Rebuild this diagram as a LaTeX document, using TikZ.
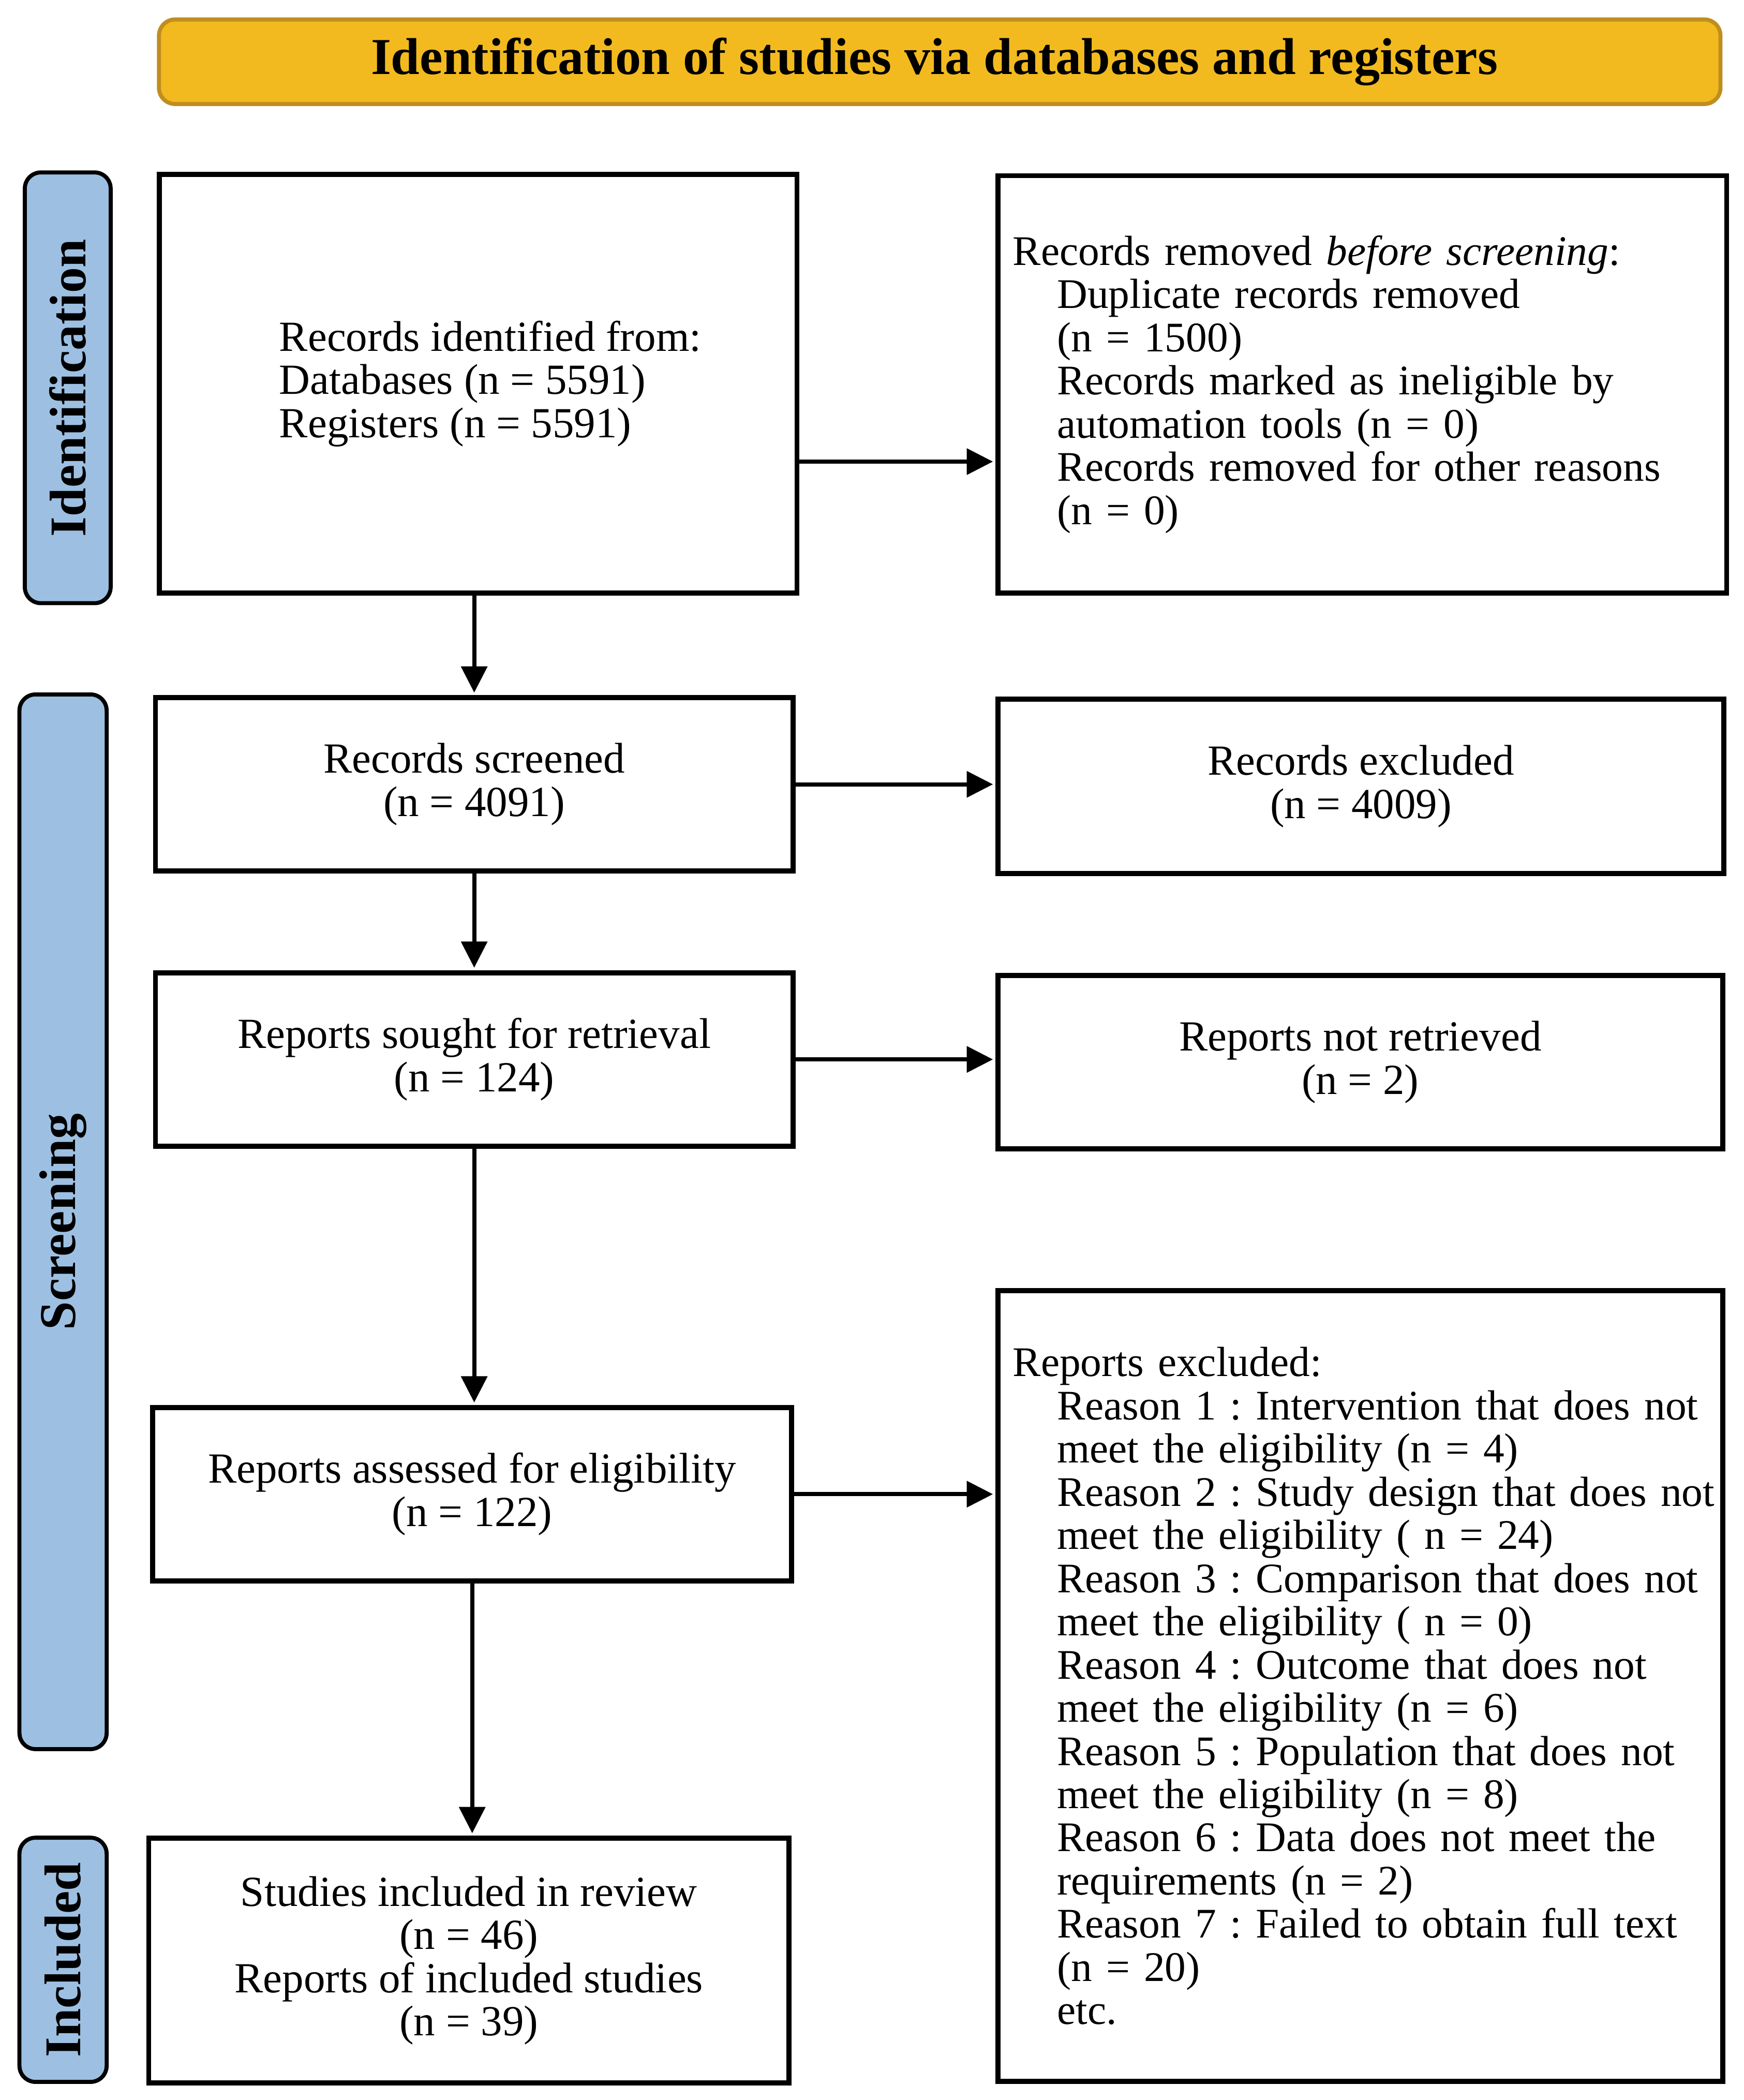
\documentclass[tikz,border=0pt]{standalone}
\usepackage{fontspec}
\setmainfont{Liberation Serif}
\usetikzlibrary{arrows.meta,calc}
\definecolor{hdrfill}{HTML}{F2BA1E}
\definecolor{hdrdraw}{HTML}{BF8E1F}
\definecolor{sidefill}{HTML}{9DC0E2}
\newcommand{\indt}{\hspace*{16.5pt}}
\frenchspacing
\begin{document}
\begin{tikzpicture}[x=0.5pt,y=-0.5pt,
  box/.style={draw=black, line width=1.9pt, inner sep=0pt, align=center,
    font=\fontsize{16}{16.1}\selectfont},
  leftbox/.style={box, align=left, inner xsep=5.55pt,
    font=\fontsize{15.7}{16.1}\selectfont},
  header/.style={draw=hdrdraw, fill=hdrfill, line width=1.5pt, rounded corners=6pt,
    inner sep=0pt, font=\fontsize{19.3}{22}\selectfont\bfseries},
  side/.style={draw=black, fill=sidefill, line width=1.5pt, rounded corners=6pt,
    rotate=90, inner sep=0pt, font=\fontsize{19.2}{22}\selectfont\bfseries},
  arr/.style={line width=1.5pt, -{Triangle[length=9.8pt,width=9.6pt]}, shorten >=0.9pt}
]
\useasboundingbox (0,0) rectangle (1300,1565);

% header
\node[header, minimum width=582pt, minimum height=31.5pt] (hdr) at (700.5,46)
  {\hspace*{-4pt}Identification of studies via databases and registers};

% side bars
\node[side, minimum width=160.5pt, minimum height=32pt] (sid) at (50.5,289) {Identification};
\node[side, minimum width=393pt, minimum height=32.5pt] (sscr) at (47,910.5) {Screening};
\node[side, minimum width=91pt, minimum height=32.5pt] (sinc) at (47,1460.5) {Included};

% boxes
\node[box, align=left, minimum width=237.6pt, minimum height=156.1pt] (b1) at (356.5,286)
  {\hspace*{9pt}Records identified from:\\
   \hspace*{9pt}Databases (n = 5591)\\
   \hspace*{9pt}Registers (n = 5591)};

\node[leftbox, text width=260.5pt, minimum height=155.6pt] (b2) at (1015.5,286.5)
  {Records removed \textit{before screening}:\\
   \indt Duplicate records removed\\
   \indt (n = 1500)\\
   \indt Records marked as ineligible by\\
   \indt automation tools (n = 0)\\
   \indt Records removed for other reasons\\
   \indt (n = 0)};

\node[box, minimum width=237.6pt, minimum height=64.6pt] (b3) at (353.5,584.5)
  {Records screened\\(n = 4091)};
\node[box, minimum width=270.6pt, minimum height=65.1pt] (b4) at (1014.5,586)
  {Records excluded\\(n = 4009)};

\node[box, minimum width=237.6pt, minimum height=64.6pt] (b5) at (353.5,789.5)
  {Reports sought for retrieval\\(n = 124)};
\node[box, minimum width=270.1pt, minimum height=64.6pt] (b6) at (1014,791.5)
  {Reports not retrieved\\(n = 2)};

\node[box, minimum width=238.1pt, minimum height=64.6pt] (b7) at (352,1113.5)
  {Reports assessed for eligibility\\(n = 122)};

\node[leftbox, text width=259pt, minimum height=294.6pt] (b8) at (1014,1256.5)
  {\mbox{Reports excluded:}\\
   \indt\mbox{Reason 1 : Intervention that does not}\\
   \indt\mbox{meet the eligibility (n = 4)}\\
   \indt\mbox{Reason 2 : Study design that does not}\\
   \indt\mbox{meet the eligibility ( n = 24)}\\
   \indt\mbox{Reason 3 : Comparison that does not}\\
   \indt\mbox{meet the eligibility ( n = 0)}\\
   \indt\mbox{Reason 4 : Outcome that does not}\\
   \indt\mbox{meet the eligibility (n = 6)}\\
   \indt\mbox{Reason 5 : Population that does not}\\
   \indt\mbox{meet the eligibility (n = 8)}\\
   \indt\mbox{Reason 6 : Data does not meet the}\\
   \indt\mbox{requirements (n = 2)}\\
   \indt\mbox{Reason 7 : Failed to obtain full text}\\
   \indt\mbox{(n = 20)}\\
   \indt\mbox{etc.}};

\node[box, minimum width=238.6pt, minimum height=91.1pt] (b9) at (349.5,1461)
  {Studies included in review\\(n = 46)\\Reports of included studies\\(n = 39)};

% connectors
\coordinate (a1) at ([yshift=-29pt]b1.east);
\draw[arr] (a1) -- (a1 -| b2.west);
\draw[arr] (b3.north |- b1.south) -- (b3.north);
\draw[arr] (b3.east) -- (b3.east -| b4.west);
\draw[arr] (b3.south) -- (b5.north);
\draw[arr] (b5.east) -- (b5.east -| b6.west);
\draw[arr] (b5.south) -- (b5.south |- b7.north);
\draw[arr] (b7.east) -- (b7.east -| b8.west);
\draw[arr] (b7.south) -- (b7.south |- b9.north);
\end{tikzpicture}
\end{document}
